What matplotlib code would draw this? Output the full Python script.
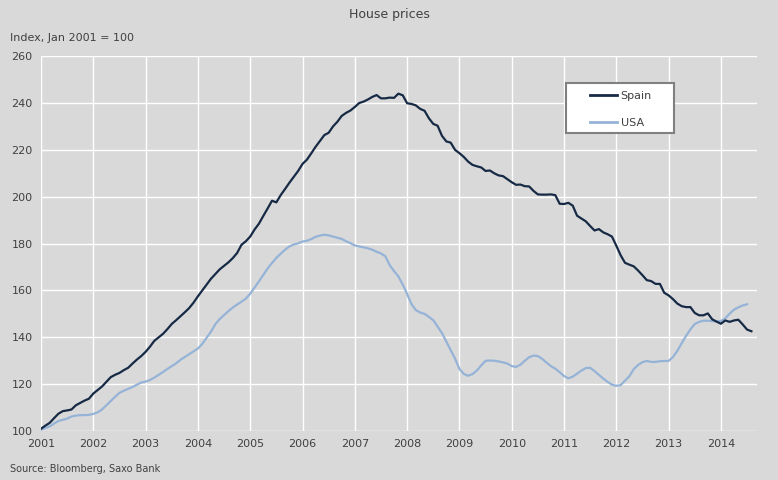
import matplotlib
matplotlib.use('Agg')
import matplotlib.pyplot as plt
from matplotlib.patches import Rectangle
import numpy as np

# monthly index values, Jan 2001 = 100
spain = [101, 102.3, 103.5, 105.5, 107.4, 108.5, 108.8, 109.2, 111, 112, 113, 113.8,
         116, 117.5, 119, 121, 123, 124, 124.8, 126, 127, 128.8, 130.5, 132,
         133.8, 136, 138.5, 140, 141.5, 143.5, 145.7, 147.3, 149, 150.7, 152.5, 154.8,
         157.5, 160, 162.5, 165, 167, 169, 170.5, 172, 173.8, 176, 179.5, 181,
         183, 186, 188.5, 191.8, 195, 198.3, 197.6, 200.7, 203.3, 206, 208.5, 211,
         214, 215.8, 218.5, 221.3, 223.8, 226.3, 227.3, 230, 232, 234.5, 235.8, 236.8,
         238.3, 240, 240.6, 241.5, 242.6, 243.4, 242, 242, 242.3, 242.2, 244, 243.3,
         239.9, 239.6, 239, 237.5, 236.7, 233.5, 231.1, 230.3, 226, 223.6, 223.1, 220,
         218.6, 217, 215, 213.6, 213, 212.5, 211, 211.2, 210, 209.1, 208.8, 207.5,
         206.2, 205.1, 205.2, 204.5, 204.4, 202.5, 201, 200.9, 200.9, 201, 200.7, 197,
         196.9, 197.4, 196.2, 191.9, 190.7, 189.5, 187.5, 185.6, 186.2, 184.8, 184, 183,
         179.1, 175, 171.8, 171, 170.3, 168.5, 166.5, 164.4, 164, 162.8, 162.8, 159,
         157.9, 156.3, 154.4, 153.3, 152.9, 152.9, 150.4, 149.4, 149.4, 150.2, 147.7, 146.7,
         145.8, 147.2, 146.6, 147.2, 147.5, 145.5, 143.3, 142.6]

usa = [100.5, 101.3, 102, 103.2, 104.3, 104.8, 105.3, 106.2, 106.6, 106.8, 106.8, 106.9,
       107.3, 108, 109.2, 111, 112.8, 114.6, 116.3, 117.2, 118, 118.8, 119.8, 120.7,
       121.1, 121.8, 122.8, 124, 125.2, 126.5, 127.7, 128.9, 130.4, 131.6, 132.8, 134,
       135.2, 137.2, 139.8, 142.4, 145.6, 147.8, 149.5, 151.2, 152.7, 154, 155.2, 156.5,
       158.6, 161.2, 163.9, 166.6, 169.4, 171.7, 173.9, 175.7, 177.4, 178.8, 179.6, 180.1,
       180.9, 181.2, 181.9, 182.9, 183.4, 183.8, 183.5, 183, 182.5, 182, 181, 180.2,
       179.2, 178.8, 178.4, 178, 177.4, 176.5, 175.8, 174.6, 170.8, 168.3, 166, 162.5,
       158.5, 154.2, 151.6, 150.6, 150, 148.7, 147.3, 144.6, 141.8, 138.2, 134.5, 130.9,
       126.5, 124.4, 123.6, 124.3, 125.8, 128, 130, 130.1, 130, 129.7, 129.3, 128.8,
       127.7, 127.4, 128.3, 130, 131.5, 132.2, 132, 130.8, 129.2, 127.7, 126.6, 125.1,
       123.5, 122.5, 123.2, 124.5, 125.8, 126.9, 127, 125.6, 124, 122.4, 121, 119.8,
       119.3, 119.6, 121.5, 123.4, 126.4, 128.2, 129.4, 129.9, 129.5, 129.5, 129.8, 129.9,
       129.9, 131.6, 134.2, 137.5, 140.6, 143.4, 145.7, 146.6, 147.1, 147.1, 146.9, 146.8,
       147, 148.1, 150.1, 151.8, 152.8, 153.6, 154.1]

years = list(range(2001, 2015))
yticks = list(range(100, 261, 20))

x_spain = 2001 + np.arange(len(spain)) / 12
x_usa = 2001 + np.arange(len(usa)) / 12

bg = '#d9d9d9'
txt = '#404040'

fig = plt.figure(figsize=(7.78, 4.8), dpi=100, facecolor=bg)
ax = fig.add_axes([0.0527, 0.102, 0.9203, 0.781])
ax.set_facecolor(bg)

ax.plot(x_spain, spain, color='#172a45', linewidth=1.6, label='Spain', zorder=3)
ax.plot(x_usa, usa, color='#95b3d7', linewidth=1.6, label='USA', zorder=2)

ax.set_xlim(2001, 2014.69)
ax.set_ylim(100, 260)
ax.set_xticks(years)
ax.set_xticklabels([str(y) for y in years])
ax.set_yticks(yticks)
ax.grid(True, color='white', linewidth=1)
ax.set_axisbelow(True)
for s in ax.spines.values():
    s.set_visible(False)
ax.tick_params(length=0, labelsize=8, colors=txt, pad=6)

# legend box drawn by hand so it can be wider than the entries
box = Rectangle((566 / 778, 1 - 133 / 480), 108 / 778, 50 / 480, transform=fig.transFigure,
                facecolor='white', edgecolor='#808080', linewidth=1.5, zorder=5, clip_on=False)
ax.add_patch(box)
leg = ax.legend(loc='upper left', bbox_to_anchor=(590 / 778, 1 - 91 / 480),
                bbox_transform=fig.transFigure, fontsize=8, frameon=False,
                handlelength=2.45, labelspacing=1.55, borderpad=0,
                handletextpad=0.3, borderaxespad=0)
leg.set_zorder(6)
for t in leg.get_texts():
    t.set_color(txt)
for l in leg.get_lines():
    l.set_linewidth(2)

fig.text(0.5, 0.97, 'House prices', ha='center', va='center', fontsize=9, color=txt)
fig.text(0.013, 0.921, 'Index, Jan 2001 = 100', ha='left', va='center', fontsize=8, color=txt)
fig.text(0.013, 0.023, 'Source: Bloomberg, Saxo Bank', ha='left', va='center', fontsize=7, color=txt)

fig.savefig('out.png', dpi=100, facecolor=bg)
